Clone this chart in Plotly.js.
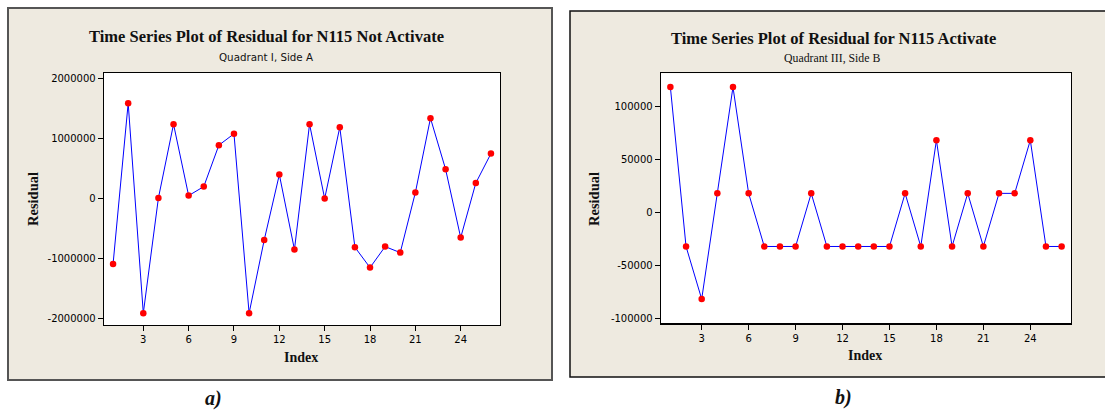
<!DOCTYPE html>
<html>
<head>
<meta charset="utf-8">
<script src="https://cdn.plot.ly/plotly-3.0.1.min.js"></script>
<style>html,body{margin:0;padding:0;background:#fff;}#chart{width:1105px;height:410px;}</style>
</head>
<body>
<div id="chart"></div>
<script>
// Data
const indexA = [1,2,3,4,5,6,7,8,9,10,11,12,13,14,15,16,17,18,19,20,21,22,23,24,25,26];
const residualA = [-1100000, 1580000, -1920000, 0, 1230000, 40000, 190000, 880000, 1070000, -1920000,
  -700000, 390000, -860000, 1230000, -10000, 1180000, -820000, -1160000, -810000, -910000,
  90000, 1330000, 480000, -660000, 250000, 740000];
const indexB = [1,2,3,4,5,6,7,8,9,10,11,12,13,14,15,16,17,18,19,20,21,22,23,24,25,26];
const residualB = [118000, -32000, -81500, 18000, 118000, 18000, -32000, -32000, -32000, 18000,
  -32000, -32000, -32000, -32000, -32000, 18000, -32000, 68000, -32000, 18000,
  -32000, 18000, 18000, 68000, -32000, -32000];
const xTicks = [3,6,9,12,15,18,21,24];
const yTicksA = [-2000000,-1000000,0,1000000,2000000];
const yTicksB = [-100000,-50000,0,50000,100000];

const W = 1105, H = 410;
const px = v => v / W;
const py = v => 1 - v / H;

const lineStyle = {color: '#0000FF', width: 1};
const markerStyle = {color: '#FF0000', size: 6.5};

const traces = [
  {x: indexA, y: residualA, type: 'scatter', mode: 'lines+markers', line: lineStyle, marker: markerStyle, xaxis: 'x', yaxis: 'y', hoverinfo: 'x+y'},
  {x: indexB, y: residualB, type: 'scatter', mode: 'lines+markers', line: lineStyle, marker: markerStyle, xaxis: 'x2', yaxis: 'y2', hoverinfo: 'x+y'}
];

const tickFont = {family: 'DejaVu Sans', size: 10, color: '#000'};
const axisCommon = {
  showgrid: false, zeroline: false, showline: true, linecolor: '#000', linewidth: 1.3,
  mirror: true, ticks: 'outside', ticklen: 5, tickcolor: '#000', tickwidth: 1,
  tickfont: tickFont, fixedrange: true
};

const A = {l: 104, r: 500, t: 73, b: 325};
const B = {l: 661, r: 1071, t: 73.3, b: 323.3};

const layout = {
  width: W, height: H,
  margin: {l: 0, r: 0, t: 0, b: 0},
  paper_bgcolor: '#ffffff',
  plot_bgcolor: '#ffffff',
  showlegend: false,
  xaxis: Object.assign({}, axisCommon, {domain: [px(A.l), px(A.r)], range: [0.4, 26.6], tickvals: xTicks, anchor: 'y'}),
  yaxis: Object.assign({}, axisCommon, {domain: [py(A.b), py(A.t)], range: [-2116667, 2083333], tickvals: yTicksA, ticktext: yTicksA.map(String), anchor: 'x'}),
  xaxis2: Object.assign({}, axisCommon, {domain: [px(B.l), px(B.r)], range: [0.4, 26.6], tickvals: xTicks, anchor: 'y2'}),
  yaxis2: Object.assign({}, axisCommon, {domain: [py(B.b), py(B.t)], range: [-104300, 131000], tickvals: yTicksB, ticktext: yTicksB.map(String), anchor: 'x2'}),
  shapes: [
    {type: 'rect', xref: 'paper', yref: 'paper', x0: px(8), x1: px(552), y0: py(380), y1: py(8),
     fillcolor: '#EEEAE0', line: {color: '#555', width: 2}, layer: 'below'},
    {type: 'rect', xref: 'paper', yref: 'paper', x0: px(570), x1: px(1112), y0: py(377), y1: py(11),
     fillcolor: '#EEEAE0', line: {color: '#111', width: 1.5}, layer: 'below'},
    {type: 'rect', xref: 'paper', yref: 'paper', x0: px(A.l), x1: px(A.r), y0: py(A.b), y1: py(A.t),
     fillcolor: '#ffffff', line: {width: 0}, layer: 'below'},
    {type: 'rect', xref: 'paper', yref: 'paper', x0: px(B.l), x1: px(B.r), y0: py(B.b), y1: py(B.t),
     fillcolor: '#ffffff', line: {width: 0}, layer: 'below'}
  ],
  annotations: [
    {text: '<b>Time Series Plot of Residual for N115 Not Activate</b>', xref: 'paper', yref: 'paper', x: px(266), y: py(37),
     showarrow: false, font: {family: 'Liberation Serif', size: 16.5, color: '#111'}, xanchor: 'center', yanchor: 'middle'},
    {text: 'Quadrant I, Side A', xref: 'paper', yref: 'paper', x: px(266), y: py(57),
     showarrow: false, font: {family: 'DejaVu Sans', size: 10.3, color: '#111'}, xanchor: 'center', yanchor: 'middle'},
    {text: '<b>Time Series Plot of Residual for N115 Activate</b>', xref: 'paper', yref: 'paper', x: px(833), y: py(39),
     showarrow: false, font: {family: 'Liberation Serif', size: 16.5, color: '#111'}, xanchor: 'center', yanchor: 'middle'},
    {text: 'Quadrant III, Side B', xref: 'paper', yref: 'paper', x: px(832), y: py(58),
     showarrow: false, font: {family: 'Liberation Serif', size: 11.8, color: '#111'}, xanchor: 'center', yanchor: 'middle'},
    {text: '<b>Residual</b>', xref: 'paper', yref: 'paper', x: px(33), y: py(199), textangle: -90,
     showarrow: false, font: {family: 'Liberation Serif', size: 14.5, color: '#111'}, xanchor: 'center', yanchor: 'middle'},
    {text: '<b>Residual</b>', xref: 'paper', yref: 'paper', x: px(594), y: py(199), textangle: -90,
     showarrow: false, font: {family: 'Liberation Serif', size: 14.5, color: '#111'}, xanchor: 'center', yanchor: 'middle'},
    {text: '<b>Index</b>', xref: 'paper', yref: 'paper', x: px(301), y: py(357),
     showarrow: false, font: {family: 'Liberation Serif', size: 14, color: '#111'}, xanchor: 'center', yanchor: 'middle'},
    {text: '<b>Index</b>', xref: 'paper', yref: 'paper', x: px(865), y: py(355),
     showarrow: false, font: {family: 'Liberation Serif', size: 14, color: '#111'}, xanchor: 'center', yanchor: 'middle'},
    {text: '<b><i>a)</i></b>', xref: 'paper', yref: 'paper', x: px(213), y: py(398),
     showarrow: false, font: {family: 'Liberation Serif', size: 20, color: '#111'}, xanchor: 'center', yanchor: 'middle'},
    {text: '<b><i>b)</i></b>', xref: 'paper', yref: 'paper', x: px(843), y: py(397),
     showarrow: false, font: {family: 'Liberation Serif', size: 20, color: '#111'}, xanchor: 'center', yanchor: 'middle'}
  ]
};

Plotly.newPlot('chart', traces, layout, {displayModeBar: false, staticPlot: true});
</script>
</body>
</html>
